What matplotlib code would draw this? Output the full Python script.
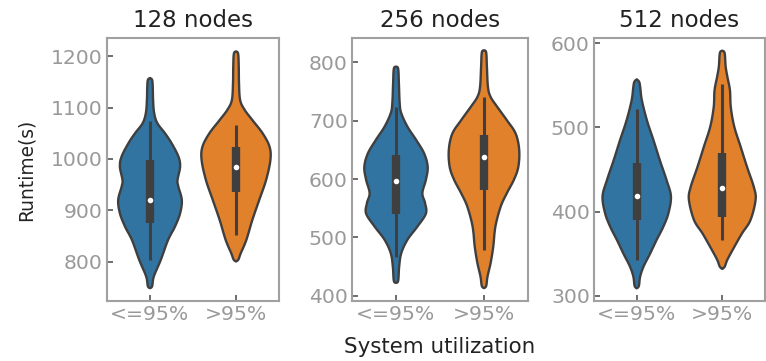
import numpy as np
import matplotlib
matplotlib.use("Agg")
import matplotlib.pyplot as plt

BLUE   = "#3274a1"
ORANGE = "#e1812c"
GRAY   = "#3f3f3f"
SPINE  = "#a0a0a0"
TICKC  = "#999999"

titles     = ["128 nodes", "256 nodes", "512 nodes"]
categories = ["<=95%", ">95%"]
ylims      = [(723, 1236), (391, 842), (294, 606)]
yticks     = [[800, 900, 1000, 1100, 1200], [400, 500, 600, 700, 800], [300, 400, 500, 600]]

# violin outlines: runtime level -> half width (in category units)
n128_lo_y = [748, 752, 771, 803, 842, 868, 894, 920, 946, 959, 985, 1005, 1031, 1050, 1070, 1090, 1115, 1140, 1154, 1158]
n128_lo_w = [0.0, 0.025, 0.045, 0.125, 0.21, 0.29, 0.35, 0.37, 0.33, 0.32, 0.35, 0.33, 0.25, 0.175, 0.085, 0.048, 0.036, 0.032, 0.025, 0.0]
n128_hi_y = [800, 804, 816, 842, 881, 920, 959, 998, 1024, 1050, 1076, 1096, 1115, 1148, 1180, 1205, 1210]
n128_hi_w = [0.0, 0.028, 0.055, 0.12, 0.19, 0.27, 0.35, 0.40, 0.39, 0.31, 0.19, 0.10, 0.048, 0.035, 0.032, 0.025, 0.0]

n256_lo_y = [422, 426, 450, 473, 496, 519, 541, 559, 576, 599, 621, 644, 667, 690, 713, 730, 764, 789, 793]
n256_lo_w = [0.0, 0.025, 0.036, 0.06, 0.13, 0.245, 0.34, 0.33, 0.30, 0.34, 0.36, 0.32, 0.23, 0.13, 0.06, 0.042, 0.033, 0.025, 0.0]
n256_hi_y = [413, 417, 433, 456, 484, 519, 553, 576, 599, 621, 650, 678, 701, 724, 741, 758, 793, 817, 821]
n256_hi_w = [0.0, 0.025, 0.04, 0.075, 0.105, 0.13, 0.19, 0.26, 0.34, 0.39, 0.40, 0.36, 0.26, 0.15, 0.075, 0.045, 0.033, 0.025, 0.0]

n512_lo_y = [309, 312, 323, 335, 350, 366, 382, 398, 418, 437, 461, 485, 508, 532, 548, 554, 557]
n512_lo_w = [0.0, 0.025, 0.04, 0.08, 0.155, 0.23, 0.31, 0.37, 0.40, 0.35, 0.27, 0.195, 0.12, 0.06, 0.04, 0.028, 0.0]
n512_hi_y = [332, 335, 343, 358, 374, 390, 414, 429, 453, 477, 501, 524, 544, 560, 572, 588, 591]
n512_hi_w = [0.0, 0.03, 0.06, 0.14, 0.23, 0.33, 0.39, 0.37, 0.29, 0.215, 0.14, 0.10, 0.09, 0.06, 0.04, 0.028, 0.0]

# inner box: whisker low, q1, median, q3, whisker high
n128_lo_box = [803, 875, 920, 998, 1075]
n128_hi_box = [852, 935, 985, 1024, 1067]
n256_lo_box = [467, 541, 596, 641, 724]
n256_hi_box = [479, 581, 638, 676, 740]
n512_lo_box = [343, 390, 418, 458, 522]
n512_hi_box = [366, 394, 428, 470, 552]

panels = [
    [(n128_lo_y, n128_lo_w, n128_lo_box), (n128_hi_y, n128_hi_w, n128_hi_box)],
    [(n256_lo_y, n256_lo_w, n256_lo_box), (n256_hi_y, n256_hi_w, n256_hi_box)],
    [(n512_lo_y, n512_lo_w, n512_lo_box), (n512_hi_y, n512_hi_w, n512_hi_box)],
]


def smooth(y, w, n=20):
    # catmull-rom through the read points, just to round the outline
    y = np.asarray(y, float); w = np.asarray(w, float)
    P = np.column_stack([y, w])
    P = np.vstack([P[0], P, P[-1]])
    out = []
    t = np.linspace(0, 1, n, endpoint=False)[:, None]
    for i in range(1, len(P) - 2):
        p0, p1, p2, p3 = P[i - 1], P[i], P[i + 1], P[i + 2]
        seg = 0.5 * ((2 * p1) + (-p0 + p2) * t + (2 * p0 - 5 * p1 + 4 * p2 - p3) * t ** 2
                     + (-p0 + 3 * p1 - 3 * p2 + p3) * t ** 3)
        out.append(seg)
    out.append(P[-2][None, :])
    out = np.vstack(out)
    return out[:, 0], np.clip(out[:, 1], 0, None)


def violin(ax, pos, y, w, box, color):
    ys, ws = smooth(y, w)
    xs = np.concatenate([pos + ws, (pos - ws)[::-1]])
    yy = np.concatenate([ys, ys[::-1]])
    ax.fill(xs, yy, facecolor=color, edgecolor=GRAY, linewidth=1.7, joinstyle="round", zorder=2)
    lo, q1, med, q3, hi = box
    ax.plot([pos, pos], [lo, hi], color=GRAY, linewidth=2.2, solid_capstyle="butt", zorder=3)
    ax.plot([pos, pos], [q1, q3], color=GRAY, linewidth=6.0, solid_capstyle="butt", zorder=3)
    ax.plot(pos, med, "o", color="white", markersize=4.0, markeredgewidth=0, zorder=4)


fig = plt.figure(figsize=(7.66, 3.61), dpi=100)
lefts  = [107, 352, 594]
rights = [279, 528, 765]
top, bottom = 38, 301
W, H = 766.0, 361.0

axes = []
for i in range(3):
    ax = fig.add_axes([lefts[i] / W, 1 - bottom / H, (rights[i] - lefts[i]) / W, (bottom - top) / H])
    axes.append(ax)
    for j, (y, w, box) in enumerate(panels[i]):
        violin(ax, j, y, w, box, [BLUE, ORANGE][j])
    ax.set_xlim(-0.5, 1.5)
    ax.set_ylim(*ylims[i])
    ax.set_xticks([0, 1])
    ax.set_xticklabels(categories)
    ax.set_yticks(yticks[i])
    ax.tick_params(direction="in", length=4, width=1.2, color="#555555",
                   labelcolor=TICKC, labelsize=14.7, pad=3)
    for s in ax.spines.values():
        s.set_edgecolor(SPINE); s.set_linewidth(1.5)
    ax.set_title(titles[i], fontsize=16.5, color="#222222", pad=8)

axes[0].set_ylabel("Runtime(s)", fontsize=13.4, color="#222222", labelpad=11)
axes[1].set_xlabel("System utilization", fontsize=15.4, color="#222222", labelpad=9)

plt.savefig("out.png", dpi=100)
